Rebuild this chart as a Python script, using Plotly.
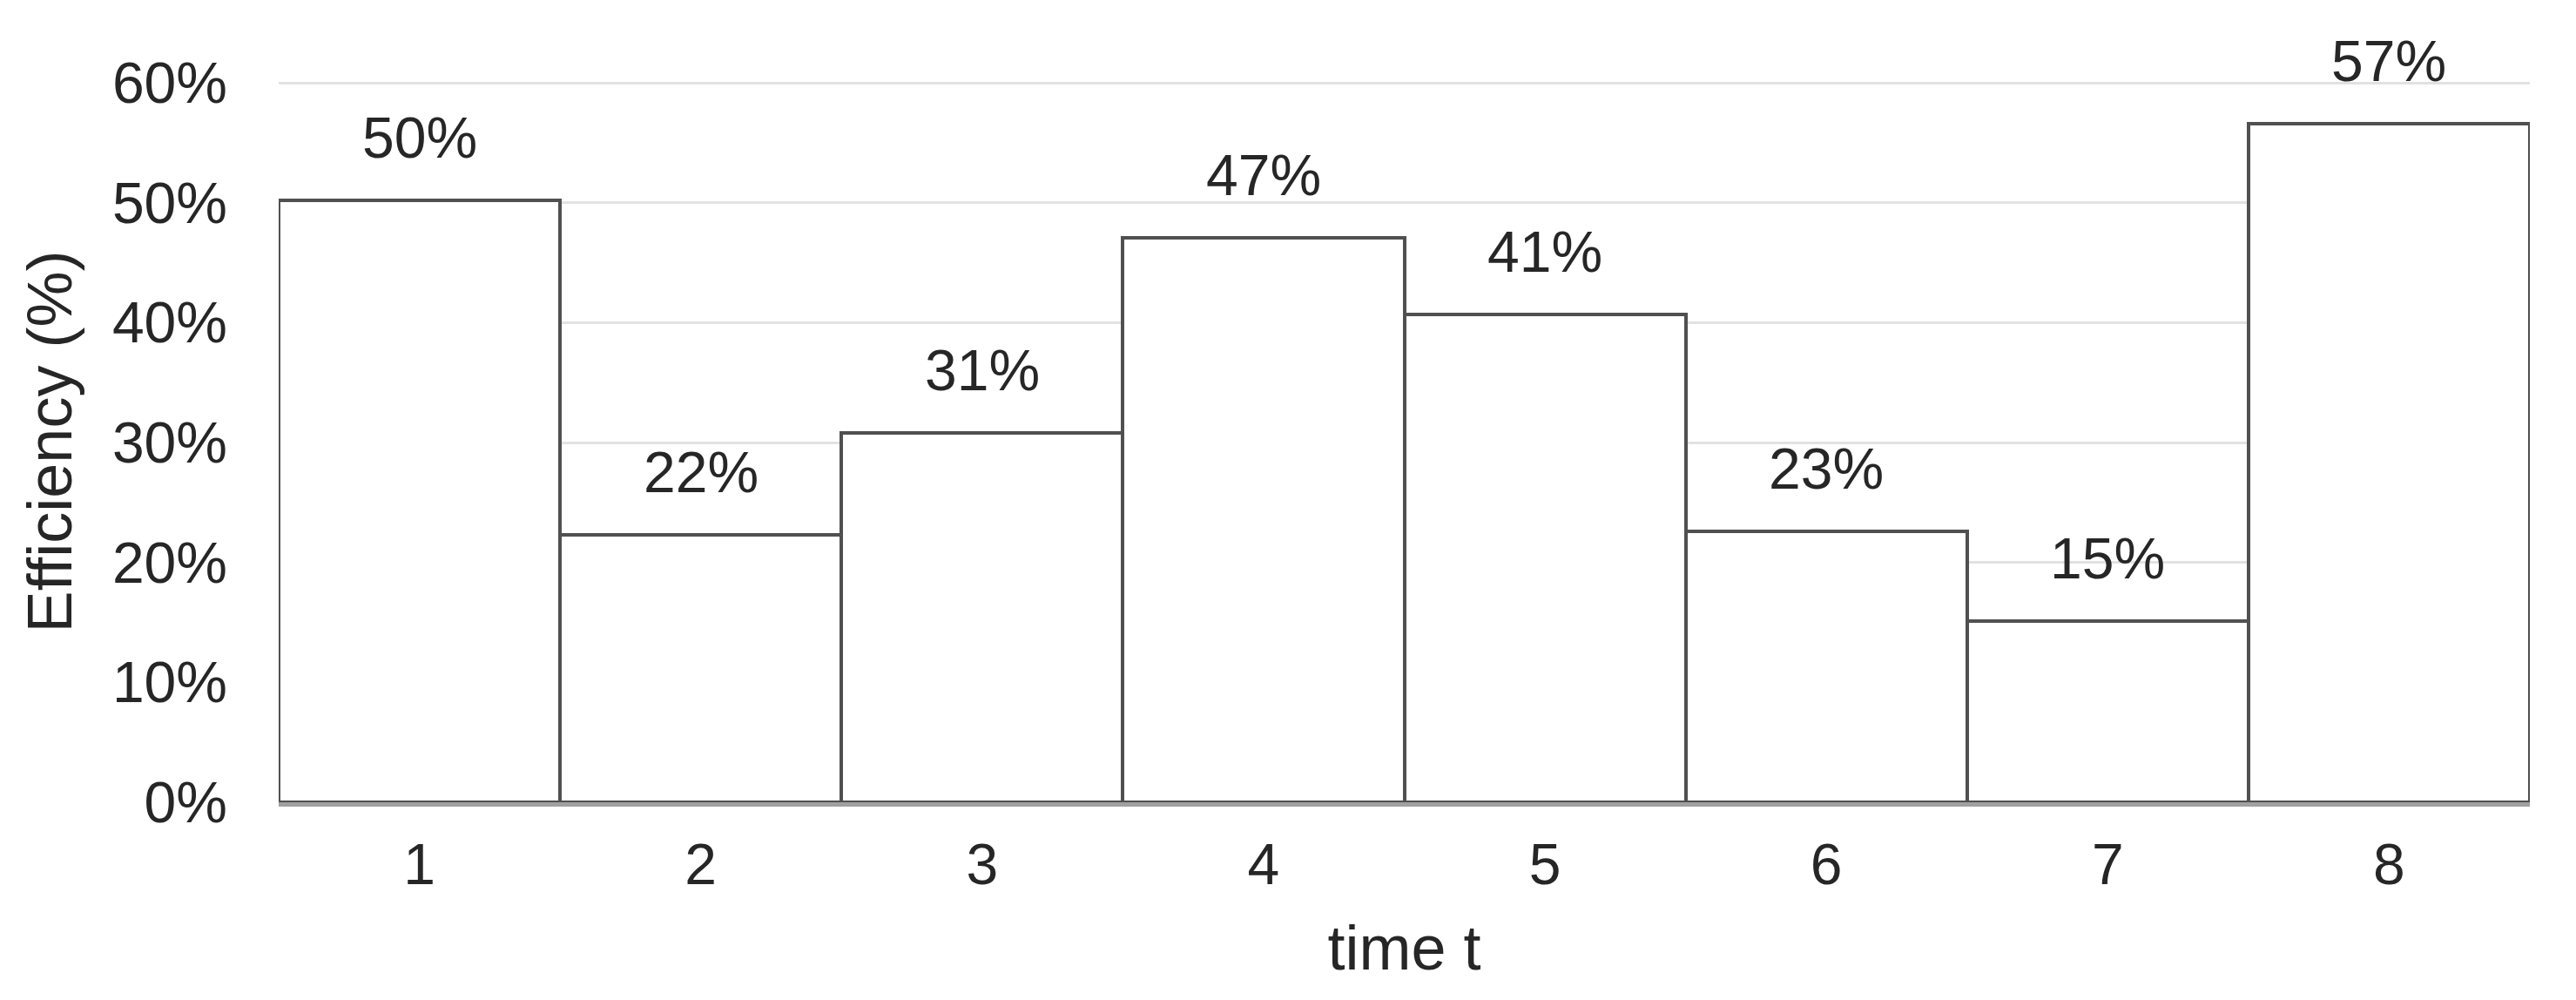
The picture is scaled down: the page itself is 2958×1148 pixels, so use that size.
import plotly.graph_objects as go

# Datos
tiempos = [1, 2, 3, 4, 5, 6, 7, 8]
eficiencia = [0.502, 0.223, 0.308, 0.471, 0.407, 0.226, 0.151, 0.566]
ticks_y = [0, 0.1, 0.2, 0.3, 0.4, 0.5, 0.6]
etiquetas_y = ["0%", "10%", "20%", "30%", "40%", "50%", "60%"]

fuente = "Liberation Sans, Arial, sans-serif"

fig = go.Figure(go.Bar(
    x=tiempos,
    y=eficiencia,
    width=1,
    marker=dict(color="white", line=dict(color="#505050", width=4)),
    hoverinfo="x+y",
))

# Etiquetas de valor sobre las barras
for t, v in zip(tiempos, eficiencia):
    fig.add_annotation(x=t, y=v, text=f"{v:.0%}", showarrow=False,
                       yanchor="middle", yshift=72,
                       font=dict(family=fuente, size=66, color="#262626"))

fig.update_layout(
    width=2958, height=1148,
    plot_bgcolor="white", paper_bgcolor="white",
    bargap=0,
    showlegend=False,
    margin=dict(l=312, r=61, t=85, b=235),
    font=dict(family=fuente, size=66, color="#262626"),
)

fig.update_xaxes(
    range=[0.5, 8.5], tickvals=tiempos, ticktext=[str(t) for t in tiempos],
    title=dict(text="time t", font=dict(size=72), standoff=36),
    showline=True, linecolor="#a0a0a0", linewidth=5,
    showgrid=False, zeroline=False, ticks="", ticklabelstandoff=10,
)

fig.update_yaxes(
    range=[0, 0.6015],
    tickvals=ticks_y, ticktext=etiquetas_y,
    title=dict(text="Efficiency (%)", font=dict(size=72), standoff=22),
    showgrid=True, gridcolor="#e2e2e2", gridwidth=3,
    zeroline=False, showline=False, ticks="", ticklabelstandoff=58,
)

fig.write_html("out.html")
